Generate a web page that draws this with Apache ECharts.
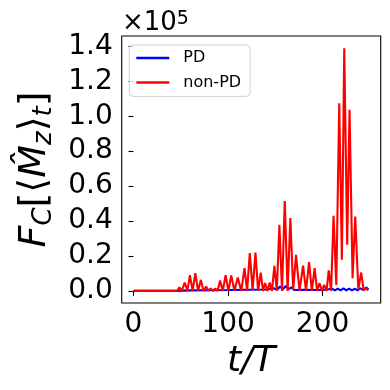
<!DOCTYPE html>
<html>
<head>
<meta charset="utf-8">
<script src="https://cdn.jsdelivr.net/npm/echarts@6/dist/echarts.min.js"></script>
<style>
  html, body { margin: 0; padding: 0; background: #fff; }
  #chart { width: 390px; height: 390px; }
</style>
</head>
<body>
<div id="chart"></div>
<script>
// t/T, F_C values (raw units, axis shows x1e5)
const nonPD = [
  [0, 0], [44, 0], [46.5, 200], [48.5, 2000], [51, 0], [54.2, 4800], [57, 0],
  [59.7, 9000], [62.5, 0], [65.4, 10100], [68.3, 0], [71.3, 6300], [74, 0],
  [76.8, 2500], [79.3, 0], [81.6, 1400], [84, 0], [86.5, 1300], [89, 0],
  [91.6, 5900], [94.5, 0], [97.4, 9000], [100.4, 0], [103.4, 8800], [106.8, 0],
  [110.3, 7600], [114, 0], [117.4, 13000], [120.2, 0], [123, 21600], [126, 500],
  [129, 22000], [131.8, 0], [134.6, 10500], [137, 0], [139.2, 4500], [141.7, 0],
  [144.1, 4800], [146.5, 0], [149, 14300], [151.6, 0], [154.3, 37800], [157.1, 0],
  [160, 51500], [163, 0], [165.9, 41700], [168.9, 500], [171.9, 20600], [175.6, 0],
  [179.3, 14500], [182.5, 0], [185.7, 16500], [188.6, 0], [191.6, 13000], [194.2, 0],
  [196.8, 4400], [199.2, 0], [201.7, 3500], [204.2, 0], [206.5, 11800], [209, 0],
  [211.6, 43000], [214.5, 3400], [217.6, 107500], [220.4, 17800], [222.9, 139000],
  [226, 26400], [228.5, 103800], [231.7, 7300], [234.5, 42600], [237.8, 800],
  [240.8, 10500], [243.5, 300], [246, 1500], [248.5, 300]
];
const PD = [
  [0, 0], [45, 0], [60, 300], [100, 500], [140, 800], [148, 1500], [152, 600],
  [155, 2500], [158, 900], [161, 2800], [164, 1000], [167, 2000], [170, 500],
  [180, 600], [200, 500], [210, 1200], [213, 300], [216, 1300], [219, 300],
  [222, 1400], [225, 300], [228, 1300], [231, 300], [234, 1200], [237, 300],
  [240, 1500], [243, 400], [246, 2000], [248.5, 800]
];
const xTicks = [0, 100, 200];
const yTicks = [0, 20000, 40000, 60000, 80000, 100000, 120000, 140000];

const chart = echarts.init(document.getElementById('chart'));
const font = 'DejaVu Sans';

chart.setOption({
  animation: false,
  grid: {
    left: 121.7, top: 36, right: 9.3, bottom: 87,
    show: true, borderColor: '#000', borderWidth: 1.1
  },
  legend: {
    orient: 'vertical',
    left: 129.3, top: 45,
    padding: [4, 9, 5, 7],
    itemGap: 6.4,
    itemWidth: 33, itemHeight: 2.5,
    icon: 'rect',
    backgroundColor: 'rgba(255,255,255,0.8)',
    borderColor: '#d0d0d0', borderWidth: 1, borderRadius: 4,
    textStyle: { fontFamily: font, fontSize: 16, color: '#000', lineHeight: 18, padding: [0, 0, 0, 9] },
    data: ['PD', 'non-PD']
  },
  xAxis: {
    type: 'value',
    min: -12.45, max: 261.45,
    name: 't/T',
    nameLocation: 'middle',
    nameGap: 40,
    nameTextStyle: { fontFamily: font, fontSize: 36, fontStyle: 'italic', color: '#000', verticalAlign: 'top' },
    axisLine: { show: false },
    splitLine: { show: false },
    axisTick: { show: true, length: 5, lineStyle: { color: '#000', width: 1.1 }, customValues: xTicks },
    axisLabel: { fontFamily: font, fontSize: 28, color: '#000', margin: 8, customValues: xTicks }
  },
  yAxis: {
    type: 'value',
    min: -6950, max: 146000,
    name: '{i|F}{s|C}{n|[⟨}{i|M̂}{s|z}{n|⟩}{s|t}{n|]}',
    nameLocation: 'middle',
    nameRotate: 90,
    nameGap: 62,
    nameTextStyle: {
      color: '#000',
      rich: {
        i: { fontFamily: font, fontSize: 38, fontStyle: 'italic', color: '#000', lineHeight: 46 },
        n: { fontFamily: font, fontSize: 38, color: '#000', lineHeight: 46 },
        s: { fontFamily: font, fontSize: 26, fontStyle: 'italic', color: '#000', lineHeight: 46, padding: [18, 0, 0, 0] }
      }
    },
    axisLine: { show: false },
    splitLine: { show: false },
    axisTick: { show: true, length: 5, lineStyle: { color: '#000', width: 1.1 }, customValues: yTicks },
    axisLabel: {
      fontFamily: font, fontSize: 28, color: '#000', margin: 9,
      customValues: yTicks,
      formatter: v => (v / 1e5).toFixed(1)
    }
  },
  graphic: [{
    type: 'text',
    left: 122, top: 2,
    style: {
      text: '{a|×10}{b|5}',
      rich: {
        a: { fontFamily: font, fontSize: 26, fill: '#000', lineHeight: 34, padding: [8, 0, 0, 0] },
        b: { fontFamily: font, fontSize: 19, fill: '#000', lineHeight: 34 }
      }
    }
  }],
  series: [
    {
      name: 'PD', type: 'line', data: PD, showSymbol: false,
      lineStyle: { color: '#0000ff', width: 2.1 }, itemStyle: { color: '#0000ff' }
    },
    {
      name: 'non-PD', type: 'line', data: nonPD, showSymbol: false,
      lineStyle: { color: '#ff0000', width: 2.1 }, itemStyle: { color: '#ff0000' }
    }
  ]
});
</script>
</body>
</html>
